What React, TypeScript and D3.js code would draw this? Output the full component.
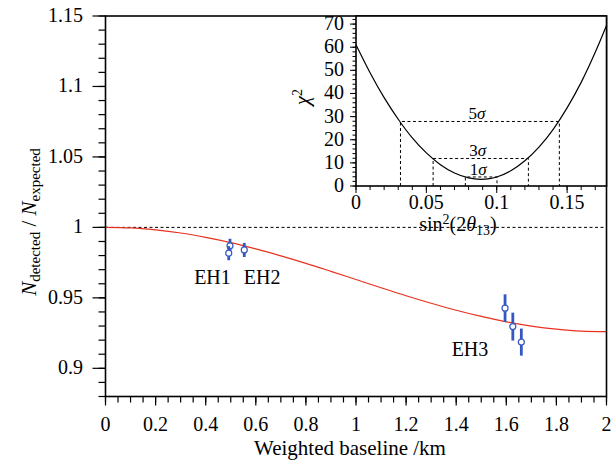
import React from "react";
import * as d3 from "d3";

// main panel: survival ratio vs weighted baseline
const baselineKm = [0, 0.1, 0.2, 0.3, 0.4, 0.5, 0.6, 0.7, 0.8, 0.9, 1.0, 1.1, 1.2, 1.3, 1.4, 1.5, 1.6, 1.7, 1.8, 1.9, 2.0];
const expectedRatio = [1.0, 0.9996, 0.9982, 0.996, 0.9929, 0.9892, 0.9847, 0.9798, 0.9745, 0.9688, 0.963, 0.9572, 0.9515, 0.9462, 0.9412, 0.9368, 0.933, 0.930, 0.9278, 0.9264, 0.926];

const detectorL = [0.497, 0.492, 0.554, 1.595, 1.626, 1.66];
const detectorRatio = [0.9869, 0.9817, 0.984, 0.9427, 0.9296, 0.9186];
const detectorErr = [0.005, 0.005, 0.005, 0.0098, 0.0099, 0.0096];

// inset: chi2 scan
const sinSq = [0, 0.01, 0.02, 0.031, 0.04, 0.05, 0.06, 0.07, 0.08, 0.0885, 0.095, 0.1, 0.11, 0.12, 0.13, 0.14, 0.15, 0.16, 0.17, 0.178];
const chi2 = [61.1, 49.0, 38.2, 28.0, 20.8, 14.3, 9.2, 5.6, 3.5, 2.9, 3.2, 3.9, 6.6, 10.9, 16.8, 24.4, 33.8, 44.8, 57.8, 69.4];

const sigmaNames = ["5", "3", "1"];
const sigmaChi2 = [27.9, 11.9, 3.9];
const sigmaLo = [0.0316, 0.0548, 0.0777];
const sigmaHi = [0.1445, 0.1225, 0.1002];

const FONT = "'Liberation Serif', 'Times New Roman', 'DejaVu Serif', serif";
const BLUE = "#3557c0";
const RED = "#e8321e";

function fmt(v: number) {
  return String(+v.toFixed(3));
}

export default function App() {
  const x = d3.scaleLinear().domain([0, 2]).range([105.5, 606.5]);
  const y = d3.scaleLinear().domain([0.88, 1.15]).range([396.5, 16]);

  const ix = d3.scaleLinear().domain([0, 0.178]).range([356, 606.5]);
  const iy = d3.scaleLinear().domain([0, 73.5]).range([186, 16]);

  const curve = d3
    .line<number>()
    .x((d, i) => x(baselineKm[i]))
    .y((d) => y(d))
    .curve(d3.curveMonotoneX)(expectedRatio);

  const chiLine = d3
    .line<number>()
    .x((d, i) => ix(sinSq[i]))
    .y((d) => iy(d))
    .curve(d3.curveMonotoneX)(chi2);

  const xMajor = d3.range(0, 2.0001, 0.2);
  const xMinor = d3.range(0, 2.0001, 0.05);
  const yMajor = d3.range(0.9, 1.1501, 0.05);
  const yMinor = d3.range(0.88, 1.1501, 0.01);

  const ixMajor = [0, 0.05, 0.1, 0.15];
  const ixMinor = d3.range(0, 0.1781, 0.01);
  const iyMajor = d3.range(0, 71, 10);
  const iyMinor = d3.range(0, 73, 2);

  const x0 = x.range()[0], x1 = x.range()[1];
  const y0 = y.range()[0], y1 = y.range()[1];
  const ix0 = ix.range()[0], ix1 = ix.range()[1];
  const iy0 = iy.range()[0], iy1 = iy.range()[1];

  return (
    <svg
      width={611}
      height={461}
      style={{ position: "absolute", left: 0, top: 0, background: "#fff", fontFamily: FONT }}
    >
      {/* main ticks */}
      {xMinor.map((t, i) => (
        <line key={"xm" + i} x1={x(t)} x2={x(t)} y1={y0} y2={y0 + 6} stroke="#000" strokeWidth={1.2} />
      ))}
      {xMajor.map((t, i) => (
        <g key={"xM" + i}>
          <line x1={x(t)} x2={x(t)} y1={y0} y2={y0 + 9} stroke="#000" strokeWidth={1.2} />
          <text x={x(t)} y={431} fontSize={20} textAnchor="middle">{fmt(t)}</text>
        </g>
      ))}
      {yMinor.map((t, i) => (
        <line key={"ym" + i} x1={x0 - 7} x2={x0} y1={y(t)} y2={y(t)} stroke="#000" strokeWidth={1.2} />
      ))}
      {yMajor.map((t, i) => (
        <g key={"yM" + i}>
          <line x1={x0 - 13} x2={x0} y1={y(t)} y2={y(t)} stroke="#000" strokeWidth={1.2} />
          <text x={83} y={y(t) + 6} fontSize={20} textAnchor="end">{fmt(t)}</text>
        </g>
      ))}

      {/* reference line at 1 */}
      <line x1={x0} x2={x1} y1={y(1)} y2={y(1)} stroke="#000" strokeWidth={1} strokeDasharray="3,2.5" />

      <path d={curve || ""} fill="none" stroke={RED} strokeWidth={1.2} />

      {detectorL.map((l, i) => (
        <g key={"pt" + i}>
          <line
            x1={x(l)} x2={x(l)}
            y1={y(detectorRatio[i] - detectorErr[i])}
            y2={y(detectorRatio[i] + detectorErr[i])}
            stroke={BLUE} strokeWidth={2.8}
          />
          <circle cx={x(l)} cy={y(detectorRatio[i])} r={3} fill="#fff" stroke={BLUE} strokeWidth={1.2} />
        </g>
      ))}

      <text x={x(0.427)} y={y(0.96)} fontSize={20} textAnchor="middle">EH1</text>
      <text x={x(0.625)} y={y(0.96)} fontSize={20} textAnchor="middle">EH2</text>
      <text x={x(1.455)} y={y(0.909)} fontSize={20} textAnchor="middle">EH3</text>

      {/* frame */}
      <rect x={x0} y={y1} width={x1 - x0} height={y0 - y1} fill="none" stroke="#000" strokeWidth={1.6} />

      {/* axis titles */}
      <text x={(x0 + x1) / 2 - 6} y={455} fontSize={21} textAnchor="middle">Weighted baseline /km</text>
      <text transform="translate(36,222) rotate(-90)" fontSize={21} textAnchor="middle">
        <tspan fontStyle="italic">N</tspan>
        <tspan dy={4} fontSize={15}>detected</tspan>
        <tspan dy={-4}> / </tspan>
        <tspan fontStyle="italic">N</tspan>
        <tspan dy={4} fontSize={15}>expected</tspan>
      </text>

      {/* inset */}
      <rect x={ix0} y={iy1} width={ix1 - ix0} height={iy0 - iy1} fill="#fff" />
      {ixMinor.map((t, i) => (
        <line key={"ixm" + i} x1={ix(t)} x2={ix(t)} y1={iy0} y2={iy0 + 4} stroke="#000" strokeWidth={1} />
      ))}
      {ixMajor.map((t, i) => (
        <g key={"ixM" + i}>
          <line x1={ix(t)} x2={ix(t)} y1={iy0} y2={iy0 + 7} stroke="#000" strokeWidth={1} />
          <text x={ix(t)} y={209} fontSize={20} textAnchor="middle">{fmt(t)}</text>
        </g>
      ))}
      {iyMinor.map((t, i) => (
        <line key={"iym" + i} x1={ix0 - 3.5} x2={ix0} y1={iy(t)} y2={iy(t)} stroke="#000" strokeWidth={1} />
      ))}
      {iyMajor.map((t, i) => (
        <g key={"iyM" + i}>
          <line x1={ix0 - 6} x2={ix0} y1={iy(t)} y2={iy(t)} stroke="#000" strokeWidth={1} />
          <text x={344} y={iy(t) + 6} fontSize={20} textAnchor="end">{fmt(t)}</text>
        </g>
      ))}

      {sigmaNames.map((s, i) => (
        <g key={"sg" + i}>
          <path
            d={`M${ix(sigmaLo[i])},${iy(0)}V${iy(sigmaChi2[i])}H${ix(sigmaHi[i])}V${iy(0)}`}
            fill="none" stroke="#000" strokeWidth={1} strokeDasharray="3,2.5"
          />
          <text x={ix((sigmaLo[i] + sigmaHi[i]) / 2) - 3} y={iy(sigmaChi2[i]) - 2} fontSize={17} textAnchor="middle">
            {s}<tspan fontStyle="italic">σ</tspan>
          </text>
        </g>
      ))}

      <path d={chiLine || ""} fill="none" stroke="#000" strokeWidth={1.2} />
      <rect x={ix0} y={iy1} width={ix1 - ix0} height={iy0 - iy1} fill="none" stroke="#000" strokeWidth={1.6} />

      <text transform="translate(309,97) rotate(-90)" fontSize={21} textAnchor="middle">
        <tspan fontStyle="italic">χ</tspan>
        <tspan dy={-7} fontSize={14}>2</tspan>
      </text>
      <text x={458} y={231} fontSize={20} textAnchor="middle">
        sin<tspan dy={-7} fontSize={14}>2</tspan>
        <tspan dy={7}>(2</tspan>
        <tspan fontStyle="italic">θ</tspan>
        <tspan dy={4} fontSize={14}>13</tspan>
        <tspan dy={-4}>)</tspan>
      </text>
    </svg>
  );
}
